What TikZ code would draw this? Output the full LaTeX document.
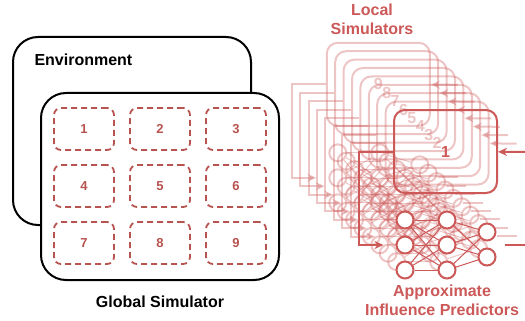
\documentclass[tikz,border=0pt]{standalone}
\usepackage{fontspec}
\setmainfont{Liberation Sans}
\usetikzlibrary{positioning, arrows.meta}
\definecolor{simred}{RGB}{204,88,88}
\definecolor{gridred}{RGB}{184,84,80}
\tikzset{
    x=1pt, y=-1pt, % pixel-like coordinates, y pointing down
    every node/.style={font=\bfseries\fontsize{16}{19}\selectfont},
    world/.style={draw, line width=2pt, rounded corners=25pt, fill=white}, % environment and global simulator
    region/.style={draw=gridred, line width=1.8pt, dash pattern=on 6pt off 4pt, rounded corners=7pt,
        minimum width=60pt, minimum height=42pt, text=gridred, font=\bfseries\fontsize{13}{15}\selectfont},
    local/.style={draw=simred, line width=2pt, rounded corners=11pt, minimum width=103pt, minimum height=83pt, text=simred},
    neuron/.style={circle, draw=simred, line width=2pt, minimum size=17pt, inner sep=0pt},
    wire/.style={draw=simred, line width=2pt},
    link/.style={draw=simred, line width=1pt},
    tip/.style={-{Stealth[length=9pt, width=8pt]}},
    }
\begin{document}
\begin{tikzpicture}
\useasboundingbox (0,0) rectangle (525,321);

% global simulator
\node[world, minimum width=238pt, minimum height=188pt] (env) at (132,131) {};
\node[anchor=west] (envtext) at (31,60) {Environment};
\node[world, minimum width=238pt, minimum height=187pt] (global) at (160,186.5) {};
\node (globaltext) at (160,302) {Global Simulator};
\foreach \n in {1,...,9} {
    \pgfmathtruncatemacro\col{mod(\n-1,3)}
    \pgfmathtruncatemacro\row{div(\n-1,3)}
    \node[region] (region\n) at (84+76*\col, 129+57*\row) {\n};
}

% local simulators, back to front
\foreach \k in {9,...,1} {
    \pgfmathsetmacro\s{8.4*(\k-1)}
    \pgfmathsetmacro\op{ifthenelse(\k==1,1,0.35)}
    \ifnum\k=1 \def\nfill{white}\else\def\nfill{none}\fi
    \begin{scope}[shift={(-\s,-\s)}, opacity=\op]
        \node[local] (sim\k) at (445.5,151.5) {\k};
        \coordinate (feed\k) at (525,152);
        \draw[wire, tip] (feed\k) -- (sim\k);
        % influence predictor
        \foreach \y [count=\i] in {220,245,270} {
            \node[neuron, fill=\nfill] (a\k-\i) at (405,\y) {};
            \node[neuron, fill=\nfill] (b\k-\i) at (447,\y) {};
        }
        \foreach \y [count=\i] in {232,257}
            \node[neuron, fill=\nfill] (c\k-\i) at (487,\y) {};
        \foreach \i in {1,2,3} {
            \foreach \j in {1,2,3} \draw[link] (a\k-\i) -- (b\k-\j);
            \foreach \j in {1,2} \draw[link] (b\k-\i) -- (c\k-\j);
        }
        \draw[wire, tip, shorten >=12pt] (sim\k.west) -- ++(-34,0) |- (a\k-2);
        \coordinate (pred\k) at (505,244.5);
        \coordinate (exit\k) at (525,244.5);
        \draw[wire] (pred\k) -- (exit\k);
    \end{scope}
}

\node[text=simred, align=center] (localtext) at (372,19) {Local\\Simulators};
\node[text=simred, align=center] (predtext) at (442,300) {Approximate\\Influence Predictors};
\end{tikzpicture}
\end{document}
